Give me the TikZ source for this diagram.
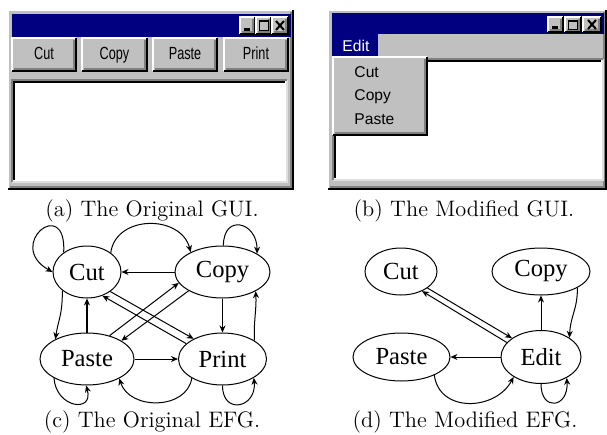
\documentclass[tikz,border=0pt]{standalone}
\usepackage{fontspec}
\newfontfamily\guifont{Liberation Sans}
\newfontfamily\efgfont{Liberation Serif}
\usetikzlibrary{shapes.geometric,arrows.meta}

\definecolor{wingray}{HTML}{C0C0C0}
\definecolor{winblue}{HTML}{000080}
\definecolor{windark}{HTML}{808080}
\definecolor{winlight}{HTML}{DFDFDF}

% raised and sunken boxes of the old window look: x1, y1 (top), x2, y2 (bottom)
\newcommand{\winraised}[4]{%
  \fill[wingray] (#1,#2) rectangle (#3,#4);
  \draw[white,line width=1pt] (#1,#4) -- (#1,#2) -- (#3,#2);
  \draw[windark,line width=1pt] ({#1+2},{#4-2}) -- ({#3-2},{#4-2}) -- ({#3-2},{#2+2});
  \draw[black,line width=1pt] (#1,#4) -- (#3,#4) -- (#3,#2);
}
\newcommand{\winsunken}[4]{%
  \fill[white] (#1,#2) rectangle (#3,#4);
  \draw[winlight,line width=1pt] (#1,#4) -- (#3,#4) -- (#3,#2);
  \draw[windark,line width=1pt] (#1,#4) -- (#1,#2) -- (#3,#2);
  \draw[black,line width=1pt] ({#1+2},{#4-2}) -- ({#1+2},{#2+2}) -- ({#3-2},{#2+2});
}
\newcommand{\btntext}[1]{\scalebox{0.72}[1]{#1}}

\tikzset{
  efgnode/.style={ellipse, draw, inner sep=0pt, font=\efgfont\fontsize{12.3}{14}\selectfont},
  caption/.style={anchor=base, font=\fontsize{11.2}{13}\selectfont},
  guilabel/.style={anchor=base, font=\guifont\fontsize{8.8}{10}\selectfont},
  menulabel/.style={anchor=base west, inner sep=0pt, font=\guifont\fontsize{7.8}{9}\selectfont},
}

\begin{document}
\begin{tikzpicture}[x=0.5pt,y=-0.5pt,line width=0.5pt,>={Stealth[length=3.5pt,width=3pt]}]
    \useasboundingbox (0,0) rectangle (607,435);

    % (a) the original window
    \winraised{8}{10}{293}{189}
    \fill[winblue] (12,14) rectangle (291,37);
    \winraised{240}{17}{255}{34}
    \fill[black] (244,28) rectangle (250,31);
    \winraised{256}{17}{271}{34}
    \draw[black] (259,20) rectangle (268,30);
    \fill[black] (259,20) rectangle (268,22);
    \winraised{272}{17}{288}{34}
    \draw[black,line width=1pt] (276,21) -- (284,30) (284,21) -- (276,30);

    \winraised{12}{38}{76}{71}
    \node[guilabel] (btnCut) at (44,59.5) {\btntext{Cut}};
    \winraised{82}{38}{147}{71}
    \node[guilabel] (btnCopy) at (114.5,59.5) {\btntext{Copy}};
    \winraised{153}{38}{217}{71}
    \node[guilabel] (btnPaste) at (185,59.5) {\btntext{Paste}};
    \winraised{224}{38}{288}{71}
    \node[guilabel] (btnPrint) at (256,59.5) {\btntext{Print}};

    \winsunken{12}{80}{287}{182}

    % (b) the modified window
    \winraised{328}{10}{606}{189}
    \fill[winblue] (332,13) rectangle (604,34);
    \winraised{548}{17}{563}{32}
    \fill[black] (552,26) rectangle (558,29);
    \winraised{565}{17}{581}{32}
    \draw[black] (568,20) rectangle (577,29);
    \fill[black] (568,20) rectangle (577,22);
    \winraised{583}{17}{601}{32}
    \draw[black,line width=1pt] (588,20) -- (596,29) (596,20) -- (588,29);

    \fill[winblue] (332,34) rectangle (378,57);
    \node[menulabel,text=white] (menuEdit) at (342,51.5) {Edit};

    \winsunken{333}{59}{603}{180}
    \winraised{333}{57}{427}{135}
    \node[menulabel] (itemCut) at (354,77) {Cut};
    \node[menulabel] (itemCopy) at (354,100.5) {Copy};
    \node[menulabel] (itemPaste) at (354,124) {Paste};

    \node[caption] (capA) at (152,216) {(a) The Original GUI.};
    \node[caption] (capB) at (464,216) {(b) The Modified GUI.};

    % (c) the original EFG
    \node[efgnode,minimum width=34pt,minimum height=26pt] (cutC) at (87,272) {Cut};
    \node[efgnode,minimum width=47.5pt,minimum height=26pt] (copyC) at (222.5,272) {Copy};
    \node[efgnode,minimum width=47pt,minimum height=26pt] (pasteC) at (87,359) {Paste};
    \node[efgnode,minimum width=44pt,minimum height=26pt] (printC) at (222.5,359) {Print};

    \draw[->] (cutC.140) .. controls +(3,-58) and +(-48,-27) .. (cutC.180);
    \draw[->] (cutC.39) .. controls +(5,-38) and +(-10,-38) .. (copyC.148);
    \draw[->] (copyC.88) .. controls +(0,-32) and +(0,-32) .. (copyC.28);
    \draw[->] (copyC) -- (cutC);
    \draw[->] (copyC) -- (printC);
    \draw[->] (printC.30) .. controls +(-1,-18) and +(1,18) .. (copyC.-30);
    \draw[->] (cutC.217) .. controls +(0,25) and +(3,-20) .. (pasteC.148);
    \draw[->] (pasteC) -- (cutC);
    \draw[->] (cutC.-40) -- (printC.145);
    \draw[->] (printC.157) -- (cutC.-57);
    \draw[->] (pasteC.46) -- (copyC.194.5);
    \draw[->] (copyC.209) -- (pasteC.28.6);
    \draw[->] (pasteC) -- (printC);
    \draw[->] (pasteC.210) .. controls +(2,30) and +(8,28) .. (pasteC.268);
    \draw[->] (printC.212) .. controls +(-5,32) and +(10,32) .. (pasteC.-31);
    \draw[->] (printC.-90) .. controls +(0,30) and +(3,30) .. (printC.-31);

    % (d) the modified EFG
    \node[efgnode,minimum width=36pt,minimum height=23.5pt] (cutD) at (401,271.5) {Cut};
    \node[efgnode,minimum width=49pt,minimum height=23.5pt] (copyD) at (541,271.5) {Copy};
    \node[efgnode,minimum width=48.5pt,minimum height=24pt] (pasteD) at (401.5,357) {Paste};
    \node[efgnode,minimum width=40pt,minimum height=26.5pt] (editD) at (541,357) {Edit};

    \draw[->] (cutD.-32) -- (editD.147.5);
    \draw[->] (editD.157) -- (cutD.-43);
    \draw[->] (editD) -- (copyD);
    \draw[->] (copyD.-24.6) .. controls +(0,22) and +(1,-22) .. (editD.34);
    \draw[->] (editD) -- (pasteD);
    \draw[->] (pasteD.-29) .. controls +(5,38) and +(-18,34) .. (editD.216);
    \draw[->] (editD.-90) .. controls +(0,28) and +(2,30) .. (editD.-39);

    \node[caption] (capC) at (152,427) {(c) The Original EFG.};
    \node[caption] (capD) at (465,427) {(d) The Modified EFG.};

\end{tikzpicture}
\end{document}
